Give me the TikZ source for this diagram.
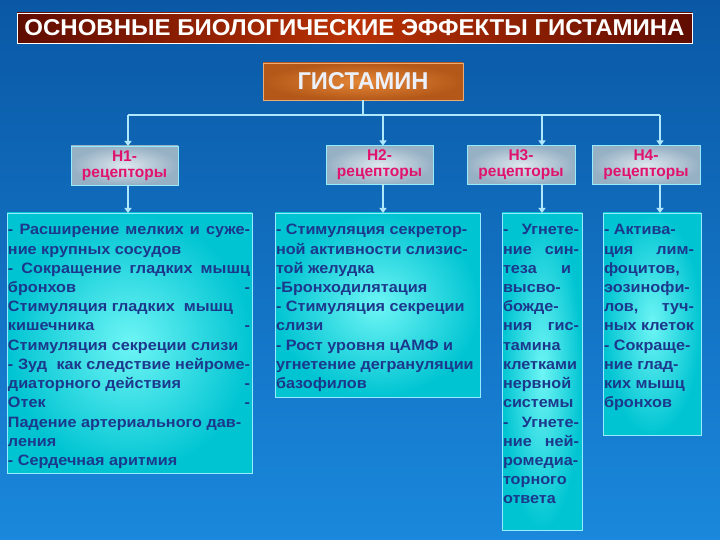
\documentclass[tikz,border=0pt]{standalone}
\usepackage{fontspec}
\usepackage{graphicx}
\setmainfont{Liberation Sans}
\newfontfamily\bodyf{Liberation Sans}[FakeStretch=1.08]
\usetikzlibrary{arrows.meta}
\definecolor{bgtop}{RGB}{10,88,165}
\definecolor{bgbot}{RGB}{26,136,220}
\definecolor{titedge}{RGB}{95,12,0}
\definecolor{titmid}{RGB}{185,50,5}
\definecolor{histout}{RGB}{180,88,25}
\definecolor{histin}{RGB}{228,135,55}
\definecolor{histtext}{RGB}{235,240,250}
\definecolor{recout}{RGB}{150,176,196}
\definecolor{recin}{RGB}{222,232,238}
\definecolor{rectext}{RGB}{225,18,110}
\definecolor{boxout}{RGB}{0,196,210}
\definecolor{boxin}{RGB}{110,245,245}
\definecolor{boxtext}{RGB}{28,56,140}
\definecolor{linkc}{RGB}{175,232,250}
\definecolor{boxedge}{RGB}{150,235,255}
\newcommand{\sprd}[1]{\makebox[\linewidth][s]{#1}}
\newcommand{\tbody}[4]{\hspace*{1pt}\parbox[t][#2pt][t]{#1pt}{\exhyphenpenalty=10000 \hyphenpenalty=10000 \bodyf\bfseries\fontsize{15}{19.2}\selectfont\color{boxtext}\rule{0pt}{22pt}#4}\hspace*{#3pt}}
\begin{document}
\begin{tikzpicture}[x=1pt,y=-1pt,
  every node/.style={inner sep=0pt, outer sep=0pt},
  titlebox/.style={draw=white, line width=0.9pt, left color=titedge, right color=titedge, middle color=titmid, minimum width=675pt, minimum height=30pt, text=white},
  histbox/.style={draw=histin!70!white, line width=0.7pt, inner color=histin, outer color=histout, minimum width=200pt, minimum height=37pt, text=histtext},
  rbox/.style={draw=boxedge, line width=0.6pt, inner color=recin, outer color=recout, minimum width=107pt, minimum height=39pt, align=center, text=rectext, font=\bfseries\fontsize{15.5}{16}\selectfont},
  tbox/.style={draw=boxedge, line width=0.8pt, inner color=boxin, outer color=boxout, anchor=north west},
  link/.style={draw=linkc, line width=1.6pt},
  arr/.style={link, -{Triangle[length=5pt,width=7pt]}}]
\shade[top color=bgtop, bottom color=bgbot] (0,0) rectangle (720,540);
\node[titlebox] (title) at (354.5,28) {\resizebox{660pt}{16pt}{\bfseries ОСНОВНЫЕ БИОЛОГИЧЕСКИЕ ЭФФЕКТЫ ГИСТАМИНА}};
\node[histbox] (hist) at (363,81.5) {\resizebox{131pt}{17pt}{\bfseries ГИСТАМИН}};
\node[rbox] (r1) at (124.5,165.5) {Н1-\\рецепторы};
\node[rbox] (r2) at (379.5,165) {Н2-\\рецепторы};
\node[rbox, minimum width=108pt] (r3) at (521,165) {Н3-\\рецепторы};
\node[rbox, minimum width=108pt] (r4) at (646,165) {Н4-\\рецепторы};
\node[tbox] (t1) at (7,213) {\tbody{242}{260}{2}{%
\sprd{- Расширение мелких и суже-}\\
ние крупных сосудов\\
\sprd{- Сокращение гладких мышц}\\
бронхов\hfill-\\
Стимуляция гладких\ \ мышц\\
кишечника\hfill-\\
Стимуляция секреции слизи\\
\sprd{- Зуд\ \ как следствие нейроме-}\\
диаторного действия\hfill-\\
Отек\hfill-\\
Падение артериального дав-\\
ления\\
- Сердечная аритмия}};
\node[tbox] (t2) at (275,213) {\tbody{200}{184}{4}{%
- Стимуляция секретор-\\
ной активности слизис-\\
той желудка\\
-Бронходилятация\\
- Стимуляция секреции\\
слизи\\
- Рост уровня цАМФ и\\
угнетение дегрануляции\\
базофилов}};
\node[tbox] (t3) at (502,213) {\tbody{76}{317}{3}{%
\sprd{- Угнете-}\\
\sprd{ние син-}\\
\makebox[\linewidth][s]{теза\hfill и\hspace*{8pt}}\\
высво-\\
божде-\\
\sprd{ния гис-}\\
тамина\\
клетками\\
нервной\\
системы\\
\sprd{- Угнете-}\\
\sprd{ние ней-}\\
ромедиа-\\
торного\\
ответа}};
\node[tbox] (t4) at (603,213) {\tbody{90}{222}{7}{%
- Актива-\\
\sprd{ция лим-}\\
фоцитов,\\
эозинофи-\\
\sprd{лов, туч-}\\
ных клеток\\
- Сокраще-\\
ние глад-\\
ких мышц\\
бронхов}};
\coordinate (j1) at (128,115);
\coordinate (j2) at (383,115);
\coordinate (j3) at (542,115);
\coordinate (j4) at (660,115);
\draw[link] (hist.south) -- (hist.south |- j1);
\draw[link] (j1) -- (j4);
\draw[arr] (j1) -- (j1 |- r1.north);
\draw[arr] (j2) -- (j2 |- r2.north);
\draw[arr] (j3) -- (j3 |- r3.north);
\draw[arr] (j4) -- (j4 |- r4.north);
\draw[arr] (j1 |- r1.south) -- (j1 |- t1.north);
\draw[arr] (j2 |- r2.south) -- (j2 |- t2.north);
\draw[arr] (j3 |- r3.south) -- (j3 |- t3.north);
\draw[arr] (j4 |- r4.south) -- (j4 |- t4.north);
\end{tikzpicture}
\end{document}
